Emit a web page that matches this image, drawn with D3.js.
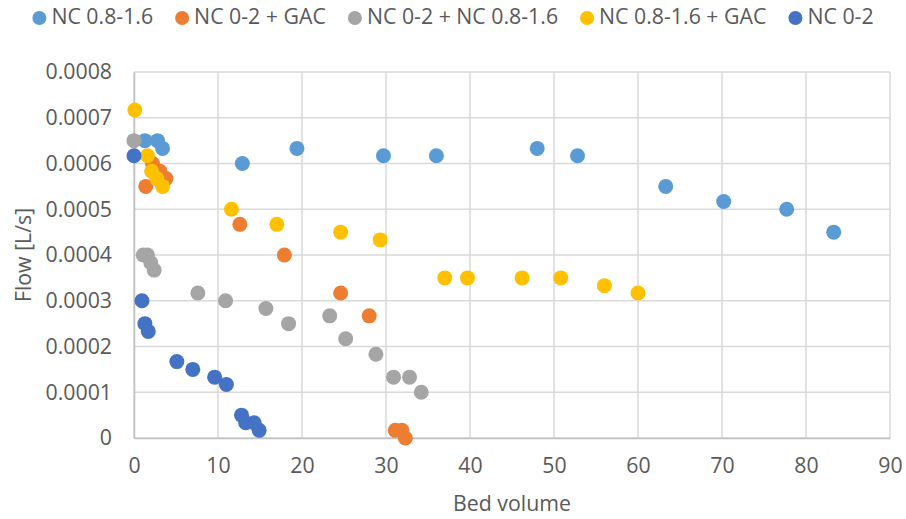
<!DOCTYPE html>
<html>
<head>
<meta charset="utf-8">
<script src="https://cdn.jsdelivr.net/npm/d3@7/dist/d3.min.js"></script>
<style>
  html, body { margin: 0; padding: 0; background: #fff; }
  svg { display: block; font-family: "Open Sans", "Noto Sans", sans-serif; }
</style>
</head>
<body>
<svg id="chart" width="906" height="519"></svg>
<script>
// ---- data ----
const seriesNames = ["NC 0.8-1.6", "NC 0-2 + GAC", "NC 0-2 + NC 0.8-1.6", "NC 0.8-1.6 + GAC", "NC 0-2"];
const seriesColors = ["#5B9BD5", "#ED7D31", "#A5A5A5", "#FFC000", "#4472C4"];

const nc0816X = [1.3, 2.8, 3.4, 12.9, 19.4, 29.7, 36.0, 48.0, 52.8, 63.3, 70.2, 77.7, 83.3];
const nc0816Y = [0.00065, 0.00065, 0.000633, 0.0006, 0.000633, 0.000617, 0.000617, 0.000633, 0.000617, 0.00055, 0.000517, 0.0005, 0.00045];

const nc02GacX = [1.4, 2.2, 3.1, 3.8, 12.6, 17.9, 24.6, 28.0, 31.1, 31.9, 32.3];
const nc02GacY = [0.00055, 0.0006, 0.000583, 0.000567, 0.000467, 0.0004, 0.000317, 0.000267, 0.0000167, 0.0000167, 0];

const nc02Nc0816X = [0, 1.1, 1.6, 2.0, 2.4, 7.6, 10.9, 15.7, 18.4, 23.3, 25.2, 28.8, 30.9, 32.8, 34.2];
const nc02Nc0816Y = [0.00065, 0.0004, 0.0004, 0.000383, 0.000367, 0.000317, 0.0003, 0.000283, 0.00025, 0.000267, 0.000217, 0.000183, 0.000133, 0.000133, 0.0001];

const nc0816GacX = [0.1, 1.6, 2.1, 2.7, 3.4, 11.6, 17.0, 24.6, 29.3, 37.0, 39.7, 46.2, 50.8, 56.0, 60.0];
const nc0816GacY = [0.000717, 0.000617, 0.000583, 0.000567, 0.00055, 0.0005, 0.000467, 0.00045, 0.000433, 0.00035, 0.00035, 0.00035, 0.00035, 0.000333, 0.000317];

const nc02X = [0, 0.95, 1.3, 1.7, 5.1, 7.0, 9.6, 11.0, 12.8, 13.3, 14.3, 14.9];
const nc02Y = [0.000617, 0.0003, 0.00025, 0.000233, 0.000167, 0.00015, 0.000133, 0.000117, 0.00005, 0.0000333, 0.0000333, 0.0000167];

const xTicks = [0, 10, 20, 30, 40, 50, 60, 70, 80, 90];
const yTicks = [0, 0.0001, 0.0002, 0.0003, 0.0004, 0.0005, 0.0006, 0.0007, 0.0008];
const yTickLabels = ["0", "0.0001", "0.0002", "0.0003", "0.0004", "0.0005", "0.0006", "0.0007", "0.0008"];
const xTitle = "Bed volume";
const yTitle = "Flow [L/s]";

const seriesX = [nc0816X, nc02GacX, nc02Nc0816X, nc0816GacX, nc02X];
const seriesY = [nc0816Y, nc02GacY, nc02Nc0816Y, nc0816GacY, nc02Y];

// ---- layout ----
const W = 906, H = 519;
const plot = { left: 134, right: 890, top: 72, bottom: 438 };
const textColor = "#595959";
const fontSize = 21.3;
const markerR = 7.5;

const svg = d3.select("#chart");
svg.append("rect").attr("width", W).attr("height", H).attr("fill", "#fff");

const x = d3.scaleLinear().domain([0, 90]).range([plot.left, plot.right]);
const y = d3.scaleLinear().domain([0, 0.0008]).range([plot.bottom, plot.top]);

// gridlines
const grid = svg.append("g");
grid.selectAll("line.h").data(yTicks).join("line")
  .attr("x1", plot.left).attr("x2", plot.right)
  .attr("y1", d => y(d)).attr("y2", d => y(d))
  .attr("stroke", "#D9D9D9").attr("stroke-width", 1.5);
grid.selectAll("line.v").data(xTicks).join("line")
  .attr("y1", plot.top).attr("y2", plot.bottom)
  .attr("x1", d => x(d)).attr("x2", d => x(d))
  .attr("stroke", "#D9D9D9").attr("stroke-width", 1.5);

// axes via d3 axis generators
const xAxis = d3.axisBottom(x).tickValues(xTicks).tickSize(0).tickPadding(19.5).tickFormat(d3.format("d"));
const gx = svg.append("g").attr("transform", `translate(0,${plot.bottom})`).call(xAxis);
gx.select(".domain").attr("stroke", "#BFBFBF").attr("stroke-width", 1.5);
gx.selectAll("text").attr("fill", textColor).attr("font-size", fontSize).attr("font-family", "'Open Sans', sans-serif");

const yAxis = d3.axisLeft(y).tickValues(yTicks).tickSize(0).tickPadding(22)
  .tickFormat((d, i) => yTickLabels[i]);
const gy = svg.append("g").attr("transform", `translate(${plot.left},0)`).call(yAxis);
gy.select(".domain").attr("stroke", "#BFBFBF").attr("stroke-width", 1.5);
gy.selectAll("text").attr("fill", textColor).attr("font-size", fontSize).attr("font-family", "'Open Sans', sans-serif");

// axis titles
svg.append("text").attr("x", (plot.left + plot.right) / 2).attr("y", 505)
  .attr("text-anchor", "middle").attr("dominant-baseline", "middle")
  .attr("fill", textColor).attr("font-size", fontSize).text(xTitle);
svg.append("text").attr("transform", `translate(25,${(plot.top + plot.bottom) / 2}) rotate(-90)`)
  .attr("text-anchor", "middle").attr("dominant-baseline", "middle")
  .attr("fill", textColor).attr("font-size", fontSize).text(yTitle);

// points (series order = draw order)
const pts = svg.append("g");
seriesNames.forEach((name, si) => {
  const data = seriesX[si].map((xv, i) => ({ x: xv, y: seriesY[si][i] }));
  pts.append("g").selectAll("circle").data(data).join("circle")
    .attr("cx", d => x(d.x)).attr("cy", d => y(d.y)).attr("r", markerR)
    .attr("fill", seriesColors[si]);
});

// legend (centered)
const legR = 7, legTextDx = 12, legGap = 22;
const legend = svg.append("g");
const items = legend.selectAll("g").data(seriesNames).join("g");
items.append("circle").attr("r", legR).attr("cx", 0).attr("cy", 0).attr("fill", (d, i) => seriesColors[i]);
items.append("text").attr("x", legTextDx).attr("y", 0).attr("dominant-baseline", "middle")
  .attr("fill", textColor).attr("font-size", fontSize).text(d => d);
let tw = [];
items.select("text").each(function () { tw.push(this.getComputedTextLength()); });
// from circle centre: item spans [-legR, legTextDx + textWidth]
const total = d3.sum(tw, w => legR + legTextDx + w) + legGap * (tw.length - 1);
let cx = (W - total) / 2 + legR;
const centers = [];
tw.forEach(w => { centers.push(cx); cx += legTextDx + w + legGap + legR; });
items.attr("transform", (d, i) => `translate(${centers[i]},18)`);
</script>
</body>
</html>
